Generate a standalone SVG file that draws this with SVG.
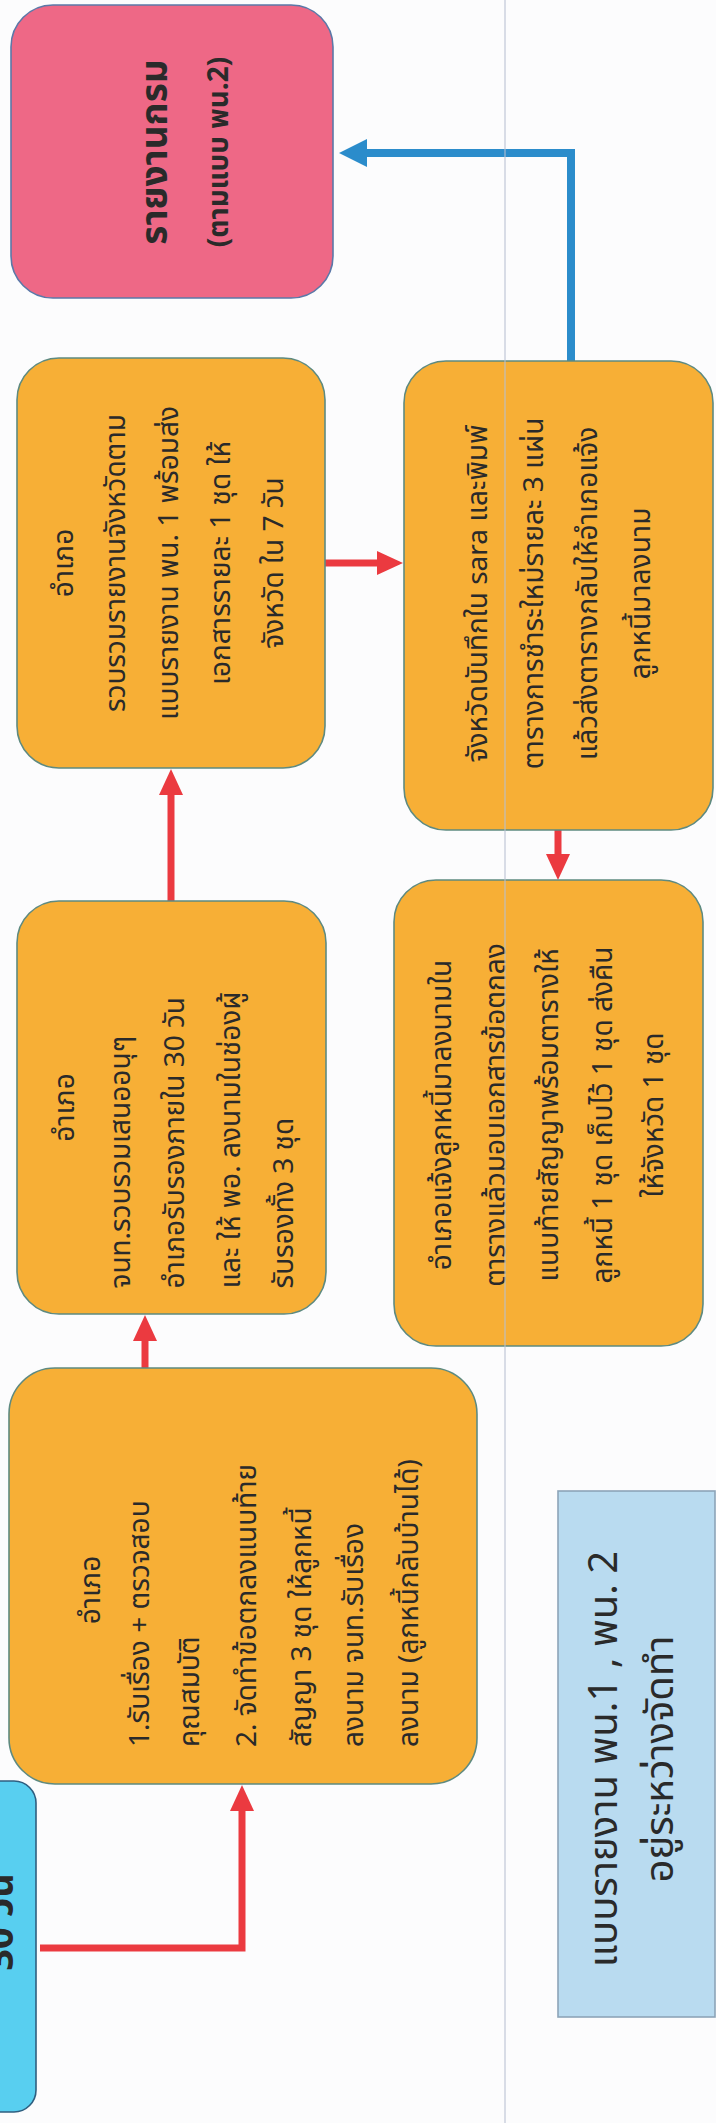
<svg xmlns="http://www.w3.org/2000/svg" width="716" height="2123" viewBox="0 0 716 2123">
<style>
.bg{fill:#FCFCFD}
.ob{fill:#F7AF36;stroke:#5E8A80;stroke-width:1.6}
.pk{fill:#EE6886;stroke:#5B78A8;stroke-width:1.6}
.cy{fill:#58CFF0;stroke:#2F5F80;stroke-width:1.6}
.ib{fill:#B9DBF0;stroke:#8DA4B8;stroke-width:1.6}
.t{font-family:"Noto Sans Thai","Noto Sans Thai Looped","Noto Sans","DejaVu Sans",sans-serif;font-size:28px;fill:#2A2A2A}
.tb{font-weight:bold}
.red{fill:none;stroke:#EB3A40;stroke-width:7}
.blue{fill:none;stroke:#2B8CCB;stroke-width:8}
.fold{stroke:#B9C0D2;stroke-width:1.5;opacity:0.7}
</style>
<defs>
<marker id="ar" markerUnits="userSpaceOnUse" markerWidth="26" markerHeight="24" refX="1" refY="12" orient="auto">
<path d="M0,0 L26,12 L0,24 Z" fill="#EB3A40"/>
</marker>
<marker id="ab" markerUnits="userSpaceOnUse" markerWidth="28" markerHeight="28" refX="1" refY="14" orient="auto">
<path d="M0,0 L28,14 L0,28 Z" fill="#2B8CCB"/>
</marker>
</defs>
<rect class="bg" x="0" y="0" width="716" height="2123"/>

<g id="connectors">
<path class="blue" d="M571,361 V153 H366" marker-end="url(#ab)"/>
<path class="red" d="M318,563 H378" marker-end="url(#ar)"/>
<path class="red" d="M171,901 V794" marker-end="url(#ar)"/>
<path class="red" d="M558,830 V855" marker-end="url(#ar)"/>
<path class="red" d="M145,1368 V1340" marker-end="url(#ar)"/>
<path class="red" d="M40,1948 H242 V1810" marker-end="url(#ar)"/>
</g>

<g id="node-report">
<rect class="pk" x="11" y="5" width="322" height="293" rx="42"/>
<g transform="translate(172,152) rotate(-90)">
<text class="t tb" x="0" y="-5" text-anchor="middle" style="font-size:37px">รายงานกรม</text>
<text class="t tb" x="0" y="56" text-anchor="middle" style="font-size:28px">(ตามแบบ พน.2)</text>
</g>
</g>

<g id="node-collect">
<rect class="ob" x="17" y="358" width="308" height="410" rx="42"/>
<g transform="translate(171,563) rotate(-90)">
<text class="t" x="0" y="-98" text-anchor="middle">อำเภอ</text>
<text class="t" x="0" y="-46" text-anchor="middle">รวบรวมรายงานจังหวัดตาม</text>
<text class="t" x="0" y="7" text-anchor="middle">แบบรายงาน พน. 1 พร้อมส่ง</text>
<text class="t" x="0" y="59" text-anchor="middle">เอกสารรายละ 1 ชุด ให้</text>
<text class="t" x="0" y="112" text-anchor="middle">จังหวัด ใน 7 วัน</text>
</g>
</g>

<g id="node-sara">
<rect class="ob" x="404" y="361" width="309" height="469" rx="42"/>
<g transform="translate(558.5,595.5) rotate(-90)">
<text class="t" x="2" y="-72" text-anchor="middle">จังหวัดบันทึกใน sara และพิมพ์</text>
<text class="t" x="2" y="-16" text-anchor="middle">ตารางการชำระใหม่รายละ 3 แผ่น</text>
<text class="t" x="2" y="38" text-anchor="middle">แล้วส่งตารางกลับให้อำเภอแจ้ง</text>
<text class="t" x="2" y="91" text-anchor="middle">ลูกหนี้มาลงนาม</text>
</g>
</g>

<g id="node-certify">
<rect class="ob" x="17" y="901" width="309" height="413" rx="42"/>
<g transform="translate(171.5,1107.5) rotate(-90)">
<text class="t" x="0" y="-98" text-anchor="middle">อำเภอ</text>
<text class="t" x="-181" y="-42" text-anchor="start">จนท.รวบรวมเสนออนุๆ</text>
<text class="t" x="-181" y="12" text-anchor="start">อำเภอรับรองภายใน 30 วัน</text>
<text class="t" x="-181" y="68" text-anchor="start">และ ให้ พอ. ลงนามในช่องผู้</text>
<text class="t" x="-181" y="121" text-anchor="start">รับรองทั้ง 3 ชุด</text>
</g>
</g>

<g id="node-notify">
<rect class="ob" x="394" y="880" width="309" height="466" rx="42"/>
<g transform="translate(548.5,1113) rotate(-90)">
<text class="t" x="-2" y="-98" text-anchor="middle">อำเภอแจ้งลูกหนี้มาลงนามใน</text>
<text class="t" x="-2" y="-44" text-anchor="middle">ตารางแล้วมอบเอกสารข้อตกลง</text>
<text class="t" x="-2" y="9" text-anchor="middle">แนบท้ายสัญญาพร้อมตารางให้</text>
<text class="t" x="-2" y="63" text-anchor="middle">ลูกหนี้ 1 ชุด เก็บไว้ 1 ชุด ส่งคืน</text>
<text class="t" x="-2" y="114" text-anchor="middle">ให้จังหวัด 1 ชุด</text>
</g>
</g>

<g id="node-receive">
<rect class="ob" x="9" y="1368" width="468" height="416" rx="46"/>
<g transform="translate(243,1576) rotate(-90)">
<text class="t" x="-14" y="-143" text-anchor="middle">อำเภอ</text>
<text class="t" x="-171" y="-94" text-anchor="start">1.รับเรื่อง + ตรวจสอบ</text>
<text class="t" x="-171" y="-44" text-anchor="start">คุณสมบัติ</text>
<text class="t" x="-171" y="13" text-anchor="start">2. จัดทำข้อตกลงแนบท้าย</text>
<text class="t" x="-171" y="68" text-anchor="start">สัญญา 3 ชุด ให้ลูกหนี้</text>
<text class="t" x="-171" y="120" text-anchor="start">ลงนาม จนท.รับเรื่อง</text>
<text class="t" x="-171" y="175" text-anchor="start">ลงนาม (ลูกหนี้กลับบ้านได้)</text>
</g>
</g>

<g id="node-start">
<rect class="cy" x="-40" y="1781" width="76" height="331" rx="22"/>
<text class="t tb" transform="translate(13,1922) rotate(-90)" text-anchor="middle" style="font-size:38px">30 วัน</text>
</g>

<g id="node-note">
<rect class="ib" x="558" y="1491" width="157" height="526"/>
<g transform="translate(636.5,1754) rotate(-90)">
<text class="t" x="-5" y="-20" text-anchor="middle" style="font-size:40px">แบบรายงาน พน.1 , พน. 2</text>
<text class="t" x="-5" y="36" text-anchor="middle" style="font-size:40px">อยู่ระหว่างจัดทำ</text>
</g>
</g>

<line class="fold" x1="505" y1="0" x2="505" y2="2123"/>
</svg>
